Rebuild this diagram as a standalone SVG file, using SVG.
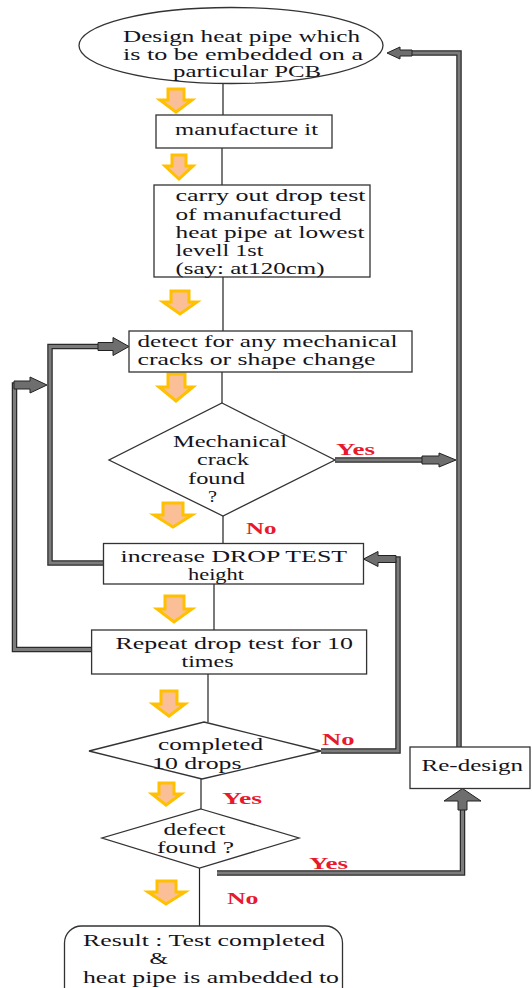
<svg xmlns="http://www.w3.org/2000/svg" width="532" height="988" viewBox="0 0 532 988">
  <style>
    .shape { fill: #ffffff; stroke: #333333; stroke-width: 1.3; }
    .wire { fill: none; stroke: #222222; stroke-width: 1.2; }
    .pipe-out { fill: none; stroke: #2a2a2a; stroke-width: 5.5; stroke-linejoin: miter; }
    .pipe-in { fill: none; stroke: #7c7c7c; stroke-width: 3; stroke-linejoin: miter; }
    .blk { fill: #6e6e6e; stroke: #222222; stroke-width: 1; }
    .hint { fill: #fbbf98; stroke: #ffc000; stroke-width: 3; stroke-linejoin: miter; }
    text { font-family: "Liberation Serif", "Times New Roman", serif; font-size: 17px; fill: #141420; }
    .lbl { font-weight: bold; font-size: 16px; fill: #e8192c; }
  </style>

  <!-- orange step hints beside the main flow -->
  <g id="hints">
    <polygon class="hint" points="168,89 184,89 184,100 192,100 176,112 160,100 168,100"/>
    <polygon class="hint" points="172,155 186,155 186,166 193,166 179,179 165,166 172,166"/>
    <polygon class="hint" points="171,291 189,291 189,302 197,302 180,314 163,302 171,302"/>
    <polygon class="hint" points="168,374 185,374 185,387 193,387 176,401 159,387 168,387"/>
    <polygon class="hint" points="163,503 183,503 183,515 192,515 173,527 154,515 163,515"/>
    <polygon class="hint" points="165,596 184,596 184,609 192,609 174,622 157,609 165,609"/>
    <polygon class="hint" points="161,691 177,691 177,704 185,704 169,716 153,704 161,704"/>
    <polygon class="hint" points="159,783 174,783 174,794 181,794 166,805 152,794 159,794"/>
    <polygon class="hint" points="157,881 176,881 176,892 185,892 166,904 148,892 157,892"/>
  </g>

  <!-- connectors -->
  <g id="connectors">
    <!-- plain flow lines -->
    <path class="wire" d="M223,83 V115 M222,148 V185 M223,277 V331 M222,372 V403 M223,516 V543.5 M214,584 V630 M208,674 V722 M201,779 V809 M199.5,868 V926"/>

    <!-- heavy return lines -->
    <path class="pipe-out" d="M103.5,563 H50 V346.5 H99"/>
    <path class="pipe-in" d="M103.5,563 H50 V346.5 H99"/>
    <path class="pipe-out" d="M91.6,649.6 H14.5 V385 H20"/>
    <path class="pipe-in" d="M91.6,649.6 H14.5 V385 H20"/>
    <path class="pipe-out" d="M335,460 H423"/>
    <path class="pipe-in" d="M335,460 H423"/>
    <path class="pipe-out" d="M321,751 H398 V559 H384"/>
    <path class="pipe-in" d="M321,751 H398 V559 H384"/>
    <path class="pipe-out" d="M459,747 V53 H412"/>
    <path class="pipe-in" d="M459,747 V53 H412"/>
    <path class="pipe-out" d="M217,873 H462.5 V806"/>
    <path class="pipe-in" d="M217,873 H462.5 V806"/>

    <!-- block arrowheads -->
    <polygon class="blk" points="98,342.5 113,342.5 113,337.5 129,346.5 113,355.5 113,350.5 98,350.5"/>
    <polygon class="blk" points="14,381 30,381 30,377 47,385 30,393 30,389 14,389"/>
    <polygon class="blk" points="422,456 439,456 439,453 456,460 439,467 439,464 422,464"/>
    <polygon class="blk" points="396,555.5 378,555.5 378,551.5 363.5,559 378,566.5 378,562.5 396,562.5"/>
    <polygon class="blk" points="412,50 400,50 400,47 387,53 400,59 400,56 412,56"/>
    <polygon class="blk" points="458,810 458,801 444,801 462.5,788.5 481,801 467,801 467,810"/>
  </g>

  <g id="n-design">
    <ellipse class="shape" cx="231" cy="45.5" rx="152" ry="38"/>
    <text x="123" y="42" textLength="237" lengthAdjust="spacingAndGlyphs">Design heat pipe which</text>
    <text x="123" y="59.5" textLength="240" lengthAdjust="spacingAndGlyphs">is to be embedded on a</text>
    <text x="173" y="77" textLength="148" lengthAdjust="spacingAndGlyphs">particular PCB</text>
  </g>

  <g id="n-manufacture">
    <rect class="shape" x="156" y="115" width="176" height="33"/>
    <text x="175" y="134.5" textLength="143" lengthAdjust="spacingAndGlyphs">manufacture it</text>
  </g>

  <g id="n-droptest">
    <rect class="shape" x="154" y="185" width="216" height="92"/>
    <text x="175.5" y="200.5" textLength="190" lengthAdjust="spacingAndGlyphs">carry out drop test</text>
    <text x="175.5" y="219.5" textLength="166" lengthAdjust="spacingAndGlyphs">of manufactured</text>
    <text x="175.5" y="237.5" textLength="189" lengthAdjust="spacingAndGlyphs">heat pipe at lowest</text>
    <text x="175.5" y="255.5" textLength="88" lengthAdjust="spacingAndGlyphs">levell 1st</text>
    <text x="175.5" y="273.5" textLength="149" lengthAdjust="spacingAndGlyphs">(say: at120cm)</text>
  </g>

  <g id="n-detect">
    <rect class="shape" x="129" y="331" width="283" height="41"/>
    <text x="137.5" y="346.5" textLength="260" lengthAdjust="spacingAndGlyphs">detect for any mechanical</text>
    <text x="137.5" y="364.5" textLength="238" lengthAdjust="spacingAndGlyphs">cracks or shape change</text>
  </g>

  <g id="n-crack">
    <polygon class="shape" points="222,403 335,460 223,516 109,460"/>
    <text x="173" y="447" textLength="114" lengthAdjust="spacingAndGlyphs">Mechanical</text>
    <text x="197" y="465" textLength="52" lengthAdjust="spacingAndGlyphs">crack</text>
    <text x="188" y="483.5" textLength="57" lengthAdjust="spacingAndGlyphs">found</text>
    <text x="208" y="501.5" textLength="9" lengthAdjust="spacingAndGlyphs">?</text>
    <text class="lbl" x="336" y="454.5" textLength="39" lengthAdjust="spacingAndGlyphs">Yes</text>
    <text class="lbl" x="246" y="534" textLength="30.5" lengthAdjust="spacingAndGlyphs">No</text>
  </g>

  <g id="n-increase">
    <rect class="shape" x="103.5" y="543.5" width="260" height="40.5"/>
    <text x="120.5" y="562" textLength="226.5" lengthAdjust="spacingAndGlyphs">increase DROP TEST</text>
    <text x="188" y="579.5" textLength="56" lengthAdjust="spacingAndGlyphs">height</text>
  </g>

  <g id="n-repeat">
    <rect class="shape" x="91.6" y="630" width="275" height="44"/>
    <text x="115.5" y="649" textLength="237.5" lengthAdjust="spacingAndGlyphs">Repeat drop test for 10</text>
    <text x="181.5" y="666.5" textLength="52" lengthAdjust="spacingAndGlyphs">times</text>
  </g>

  <g id="n-completed">
    <polygon class="shape" points="204,722 321,751 202,779 89,751"/>
    <text x="158" y="750" textLength="105" lengthAdjust="spacingAndGlyphs">completed</text>
    <text x="152" y="768.5" textLength="89.5" lengthAdjust="spacingAndGlyphs">10 drops</text>
    <text class="lbl" x="322" y="744.5" textLength="32.5" lengthAdjust="spacingAndGlyphs">No</text>
    <text class="lbl" x="222" y="804" textLength="40" lengthAdjust="spacingAndGlyphs">Yes</text>
  </g>

  <g id="n-defect">
    <polygon class="shape" points="201,809 299,838 199.5,868 102,838"/>
    <text x="163.5" y="834.5" textLength="62" lengthAdjust="spacingAndGlyphs">defect</text>
    <text x="157" y="853" textLength="77" lengthAdjust="spacingAndGlyphs">found ?</text>
    <text class="lbl" x="309" y="868.5" textLength="39" lengthAdjust="spacingAndGlyphs">Yes</text>
    <text class="lbl" x="227" y="903.5" textLength="31.5" lengthAdjust="spacingAndGlyphs">No</text>
  </g>

  <g id="n-redesign">
    <rect class="shape" x="410" y="747" width="120" height="41.5"/>
    <text x="421.5" y="770.5" textLength="101.5" lengthAdjust="spacingAndGlyphs">Re-design</text>
  </g>

  <g id="n-result">
    <rect class="shape" x="64.5" y="926" width="278" height="90" rx="17" ry="17"/>
    <text x="83" y="945.5" textLength="242" lengthAdjust="spacingAndGlyphs">Result : Test completed</text>
    <text x="149.5" y="964" textLength="18.5" lengthAdjust="spacingAndGlyphs">&amp;</text>
    <text x="83" y="982.5" textLength="256" lengthAdjust="spacingAndGlyphs">heat pipe is ambedded to</text>
  </g>
</svg>
